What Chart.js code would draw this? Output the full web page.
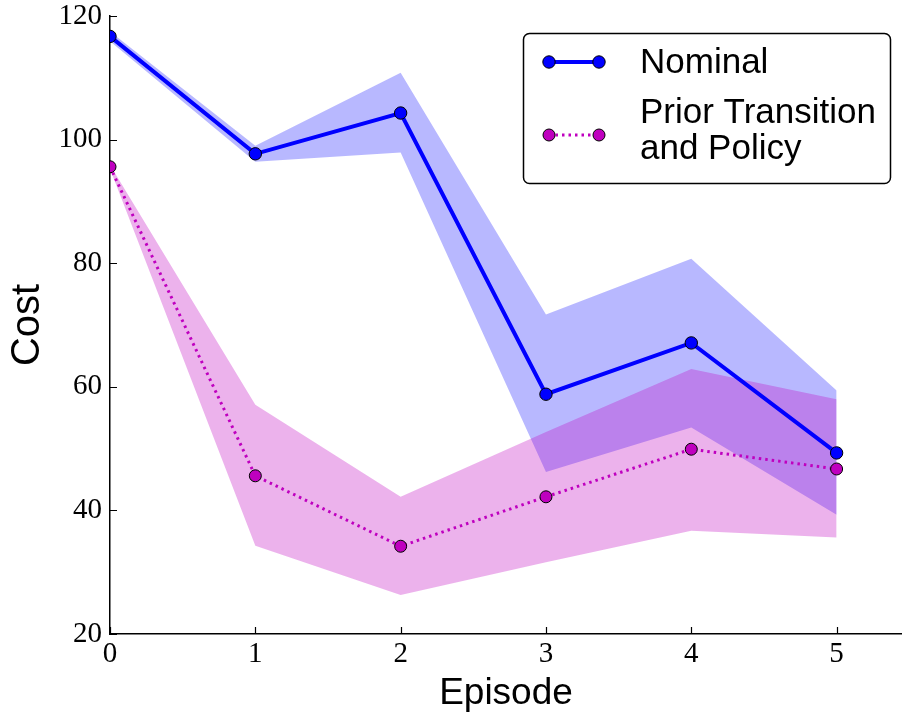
<!DOCTYPE html>
<html>
<head>
<meta charset="utf-8">
<script src="https://cdn.jsdelivr.net/npm/chart.js@4/dist/chart.umd.min.js"></script>
<style>
  html, body { margin: 0; padding: 0; background: #fff; }
  #wrap { width: 902px; height: 719px; }
</style>
</head>
<body>
<div id="wrap"><canvas id="c" width="902" height="719"></canvas></div>
<script>
// Cost per episode: mean and spread band for each method
const episodes = [0, 1, 2, 3, 4, 5];
const nominalMean  = [116.7, 97.7, 104.3, 58.8, 67.1, 49.3];
const nominalUpper = [117.5, 99.0, 110.8, 71.7, 80.7, 59.4];
const nominalLower = [115.9, 96.4, 97.9, 46.2, 53.4, 39.3];
const priorMean  = [95.6, 45.6, 34.2, 42.2, 49.9, 46.7];
const priorUpper = [95.9, 57.1, 42.2, 52.7, 62.9, 58.0];
const priorLower = [95.3, 34.3, 26.3, 31.6, 36.7, 35.6];
const seriesLabels = ['Nominal', 'Prior Transition\nand Policy'];
const xTicks = [0, 1, 2, 3, 4, 5];
const yTicks = [20, 40, 60, 80, 100, 120];

const BLUE = '#0000ff';
const MAGENTA = '#bf00bf';
const BLUE_BAND = 'rgba(0,0,255,0.28)';
const MAGENTA_BAND = 'rgba(191,0,191,0.3)';
const SERIF = '"Liberation Serif", "DejaVu Serif", serif';
const SANS = '"Liberation Sans", Arial, sans-serif';

const pts = arr => episodes.map((x, i) => ({ x, y: arr[i] }));

const bandStyle = { showLine: true, borderWidth: 0, pointRadius: 0, pointHoverRadius: 0, tension: 0 };

const datasets = [
  Object.assign({ label: 'nominal-upper', data: pts(nominalUpper), fill: '+1', backgroundColor: BLUE_BAND, order: 5 }, bandStyle),
  Object.assign({ label: 'nominal-lower', data: pts(nominalLower), fill: false, order: 4 }, bandStyle),
  Object.assign({ label: 'prior-upper', data: pts(priorUpper), fill: '+1', backgroundColor: MAGENTA_BAND, order: 3 }, bandStyle),
  Object.assign({ label: 'prior-lower', data: pts(priorLower), fill: false, order: 2 }, bandStyle),
  {
    label: seriesLabels[1], data: pts(priorMean), showLine: true, fill: false, order: 1,
    borderColor: MAGENTA, borderWidth: 3, borderDash: [2.5, 4], tension: 0,
    pointRadius: 6, pointBackgroundColor: MAGENTA, pointBorderColor: '#000', pointBorderWidth: 1
  },
  {
    label: seriesLabels[0], data: pts(nominalMean), showLine: true, fill: false, order: 0,
    borderColor: BLUE, borderWidth: 4, tension: 0,
    pointRadius: 6.2, pointBackgroundColor: BLUE, pointBorderColor: '#000', pointBorderWidth: 1
  }
];

// Inward tick marks on the left and bottom spines
const innerTicks = {
  id: 'innerTicks',
  afterDatasetsDraw(chart) {
    const { ctx, chartArea, scales } = chart;
    ctx.save();
    ctx.strokeStyle = '#000';
    ctx.lineWidth = 1.2;
    ctx.beginPath();
    yTicks.forEach(v => {
      const y = Math.round(scales.y.getPixelForValue(v)) + 0.5;
      ctx.moveTo(chartArea.left, y);
      ctx.lineTo(chartArea.left + 7, y);
    });
    xTicks.forEach(v => {
      const x = Math.round(scales.x.getPixelForValue(v)) + 0.5;
      ctx.moveTo(x, chartArea.bottom);
      ctx.lineTo(x, chartArea.bottom - 7);
    });
    ctx.stroke();
    ctx.restore();
  }
};

// Framed legend in the upper right corner
const boxLegend = {
  id: 'boxLegend',
  afterDraw(chart) {
    const { ctx } = chart;
    const bx = 523.5, by = 33.5, bw = 367, bh = 150;
    ctx.save();
    ctx.beginPath();
    ctx.roundRect(bx, by, bw, bh, 6);
    ctx.fillStyle = '#fff';
    ctx.fill();
    ctx.strokeStyle = '#000';
    ctx.lineWidth = 1.5;
    ctx.stroke();

    const entries = [
      { ds: datasets[5], y: 62, textY: [73] },
      { ds: datasets[4], y: 135, textY: [123, 159] }
    ];
    entries.forEach(e => {
      const ds = e.ds;
      ctx.save();
      ctx.strokeStyle = ds.borderColor;
      ctx.lineWidth = ds.borderWidth;
      ctx.setLineDash(ds.borderDash || []);
      ctx.beginPath();
      ctx.moveTo(549, e.y);
      ctx.lineTo(599, e.y);
      ctx.stroke();
      ctx.setLineDash([]);
      [549, 599].forEach(px => {
        ctx.beginPath();
        ctx.arc(px, e.y, ds.pointRadius, 0, Math.PI * 2);
        ctx.fillStyle = ds.pointBackgroundColor;
        ctx.fill();
        ctx.lineWidth = 1;
        ctx.strokeStyle = '#000';
        ctx.stroke();
      });
      ctx.restore();
      ctx.fillStyle = '#000';
      ctx.font = '35px ' + SANS;
      ctx.textBaseline = 'alphabetic';
      ctx.textAlign = 'left';
      ds.label.split('\n').forEach((line, i) => ctx.fillText(line, 640, e.textY[i]));
    });
    ctx.restore();
  }
};

new Chart(document.getElementById('c'), {
  type: 'scatter',
  data: { datasets },
  plugins: [innerTicks, boxLegend],
  options: {
    responsive: false,
    animation: false,
    events: [],
    layout: { autoPadding: false, padding: { top: 16, right: 0, left: 0, bottom: 0 } },
    plugins: { legend: { display: false }, tooltip: { enabled: false }, filler: { drawTime: 'beforeDatasetDraw' } },
    scales: {
      x: {
        type: 'linear', min: 0, max: 5.45,
        afterBuildTicks: s => { s.ticks = xTicks.map(v => ({ value: v })); },
        afterFit: s => { s.height = 85; s.paddingLeft = 0; s.paddingRight = 0; },
        grid: { display: false, drawTicks: false },
        border: { display: true, color: '#000', width: 1.5 },
        ticks: { color: '#000', font: { family: SERIF, size: 29, lineHeight: 1 }, padding: 6, maxRotation: 0, autoSkip: false },
        title: { display: true, text: 'Episode', color: '#000', font: { family: SANS, size: 37, lineHeight: 1.2 }, padding: { top: 0, bottom: 3 } }
      },
      y: {
        type: 'linear', min: 20, max: 120,
        afterBuildTicks: s => { s.ticks = yTicks.map(v => ({ value: v })); },
        afterFit: s => { s.width = 110; s.paddingTop = 0; s.paddingBottom = 0; },
        grid: { display: false, drawTicks: false },
        border: { display: true, color: '#000', width: 1.5 },
        ticks: { color: '#000', font: { family: SERIF, size: 29, lineHeight: 1 }, padding: 8 },
        title: { display: true, text: 'Cost', color: '#000', font: { family: SANS, size: 40, lineHeight: 1.2 }, padding: { top: 4, bottom: 0 } }
      }
    }
  }
});
</script>
</body>
</html>
